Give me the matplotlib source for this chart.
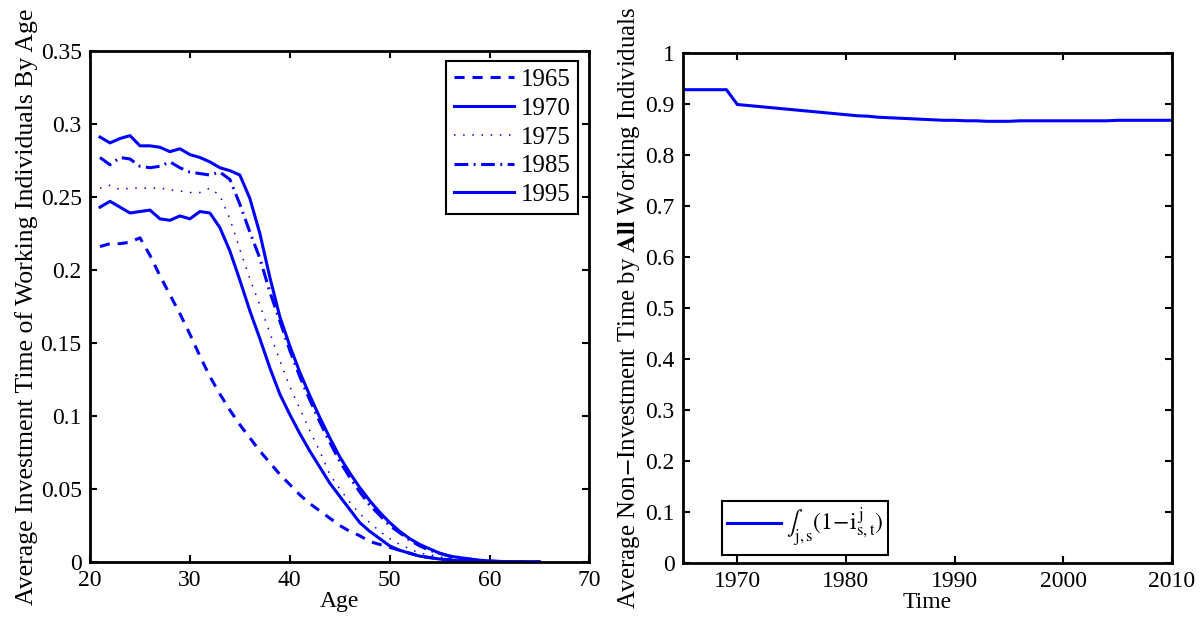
import matplotlib
matplotlib.use("Agg")
import matplotlib.pyplot as plt
import numpy as np

plt.rcParams['font.family'] = ['Liberation Serif', 'DejaVu Serif']
plt.rcParams['mathtext.fontset'] = 'stix'
plt.rcParams['font.size'] = 17

# left panel: average investment time by age, one curve per cohort year
ages = list(range(21, 66))

inv_1965 = [0.216, 0.218, 0.218, 0.219, 0.222, 0.210, 0.196, 0.183, 0.170, 0.156,
            0.141, 0.127, 0.115, 0.104, 0.094, 0.085, 0.076, 0.068, 0.060, 0.053,
            0.046, 0.040, 0.035, 0.030, 0.025, 0.021, 0.018, 0.014, 0.012, 0.010,
            0.008, 0.006, 0.004, 0.003, 0.002, 0.0015, 0.001, 0.0006, 0.0003, 0.0002,
            0.0001, 0.0001, 0.0, 0.0, 0.0]
inv_1970 = [0.243, 0.247, 0.243, 0.239, 0.240, 0.241, 0.235, 0.234, 0.237, 0.235,
            0.240, 0.239, 0.229, 0.213, 0.193, 0.172, 0.153, 0.133, 0.115, 0.101,
            0.088, 0.076, 0.065, 0.054, 0.045, 0.036, 0.027, 0.021, 0.016, 0.011,
            0.008, 0.006, 0.004, 0.003, 0.002, 0.0013, 0.0008, 0.0005, 0.0003, 0.0002,
            0.0001, 0.0001, 0.0, 0.0, 0.0]
inv_1975 = [0.256, 0.258, 0.255, 0.256, 0.256, 0.256, 0.256, 0.255, 0.254, 0.253,
            0.253, 0.256, 0.251, 0.235, 0.214, 0.194, 0.176, 0.157, 0.138, 0.120,
            0.105, 0.090, 0.076, 0.060, 0.050, 0.041, 0.033, 0.027, 0.021, 0.016,
            0.012, 0.009, 0.006, 0.005, 0.0035, 0.0025, 0.0015, 0.001, 0.0006, 0.0004,
            0.0002, 0.0001, 0.0, 0.0, 0.0]
inv_1985 = [0.277, 0.272, 0.277, 0.276, 0.271, 0.270, 0.271, 0.274, 0.270, 0.267,
            0.266, 0.265, 0.267, 0.262, 0.245, 0.226, 0.208, 0.185, 0.165, 0.145,
            0.127, 0.111, 0.096, 0.082, 0.069, 0.058, 0.048, 0.039, 0.032, 0.025,
            0.020, 0.015, 0.011, 0.008, 0.006, 0.004, 0.003, 0.002, 0.001, 0.0006,
            0.0003, 0.0002, 0.0001, 0.0, 0.0]
inv_1995 = [0.291, 0.287, 0.290, 0.292, 0.285, 0.285, 0.284, 0.281, 0.283, 0.279,
            0.277, 0.274, 0.270, 0.268, 0.265, 0.249, 0.225, 0.195, 0.168, 0.148,
            0.130, 0.114, 0.099, 0.085, 0.072, 0.061, 0.051, 0.042, 0.034, 0.027,
            0.021, 0.016, 0.012, 0.009, 0.006, 0.004, 0.003, 0.002, 0.0012, 0.0007,
            0.0004, 0.0002, 0.0001, 0.0, 0.0]

cohort_labels = ['1965', '1970', '1975', '1985', '1995']

# right panel: non-investment time of all workers over time
years = list(range(1965, 2011))
non_inv = [0.928, 0.928, 0.928, 0.928, 0.928, 0.899, 0.897, 0.895, 0.893, 0.891,
           0.889, 0.887, 0.885, 0.883, 0.881, 0.879, 0.877, 0.876, 0.874, 0.873,
           0.872, 0.871, 0.870, 0.869, 0.868, 0.868, 0.867, 0.867, 0.866, 0.866,
           0.866, 0.867, 0.867, 0.867, 0.867, 0.867, 0.867, 0.867, 0.867, 0.867,
           0.868, 0.868, 0.868, 0.868, 0.868, 0.868]

blue = '#0000ff'

fig = plt.figure(figsize=(12.02, 6.24), dpi=100)
ax1 = fig.add_axes([0.0749, 0.0994, 0.4155, 0.819])
ax2 = fig.add_axes([0.5682, 0.0978, 0.4068, 0.8173])

series = [inv_1965, inv_1970, inv_1975, inv_1985, inv_1995]
styles = [dict(ls=(0, (3.3, 2.6)), lw=2.2),
          dict(ls='-', lw=2.2),
          dict(ls=(0, (1, 5)), lw=1.1),
          dict(ls=(0, (4.5, 1.8, 0.6, 1.8)), lw=2.2),
          dict(ls='-', lw=2.2)]
for vals, lab, st in zip(series, cohort_labels, styles):
    ax1.plot(ages, vals, color=blue, label=lab, **st)

ax1.set_xlim(20, 70)
ax1.set_ylim(0, 0.35)
ax1.set_xticks(np.arange(20, 71, 10))
ax1.set_yticks(np.arange(0, 0.351, 0.05))
ax1.set_yticklabels(['0', '0.05', '0.1', '0.15', '0.2', '0.25', '0.3', '0.35'])
ax1.set_xlabel('Age', labelpad=0)
ax1.set_ylabel('Average Investment Time of Working Individuals By Age',
               fontsize=18.5, labelpad=2)
leg1 = ax1.legend(loc='upper right', handlelength=2.4, handletextpad=0.3,
                  borderpad=0.3, labelspacing=0.25, borderaxespad=0,
                  fontsize=18, fancybox=False, edgecolor='black', framealpha=1,
                  bbox_to_anchor=(0.978, 0.980))
leg1.get_frame().set_linewidth(1.5)

ax2.plot(years, non_inv, color=blue, lw=2.2,
         label=r'$\int_{\mathrm{j,s}}(1\!-\!\mathrm{i}^{\,\mathrm{j}}_{\mathrm{s,t}})$')
ax2.set_xlim(1965, 2010)
ax2.set_ylim(0, 1)
ax2.set_xticks(np.arange(1970, 2011, 10))
ax2.set_yticks(np.arange(0, 1.01, 0.1))
ax2.set_yticklabels(['0', '0.1', '0.2', '0.3', '0.4', '0.5', '0.6', '0.7', '0.8', '0.9', '1'])
ax2.set_xlabel('Time', labelpad=0)
ax2.set_ylabel(r'Average Non$-$Investment Time by $\mathbf{All}$ Working Individuals',
               fontsize=17.9, labelpad=2)
leg2 = ax2.legend(loc='lower left', handlelength=2.3, handletextpad=0.2,
                  borderpad=0.2, borderaxespad=0, fontsize=17, fancybox=False,
                  edgecolor='black', framealpha=1, bbox_to_anchor=(0.08, 0.016))
leg2.get_frame().set_linewidth(1.5)

for ax in (ax1, ax2):
    for sp in ax.spines.values():
        sp.set_linewidth(2.0)
    ax.tick_params(direction='in', length=5, width=1.5, top=True, right=True, pad=6)

fig.savefig('out.png', dpi=100)
